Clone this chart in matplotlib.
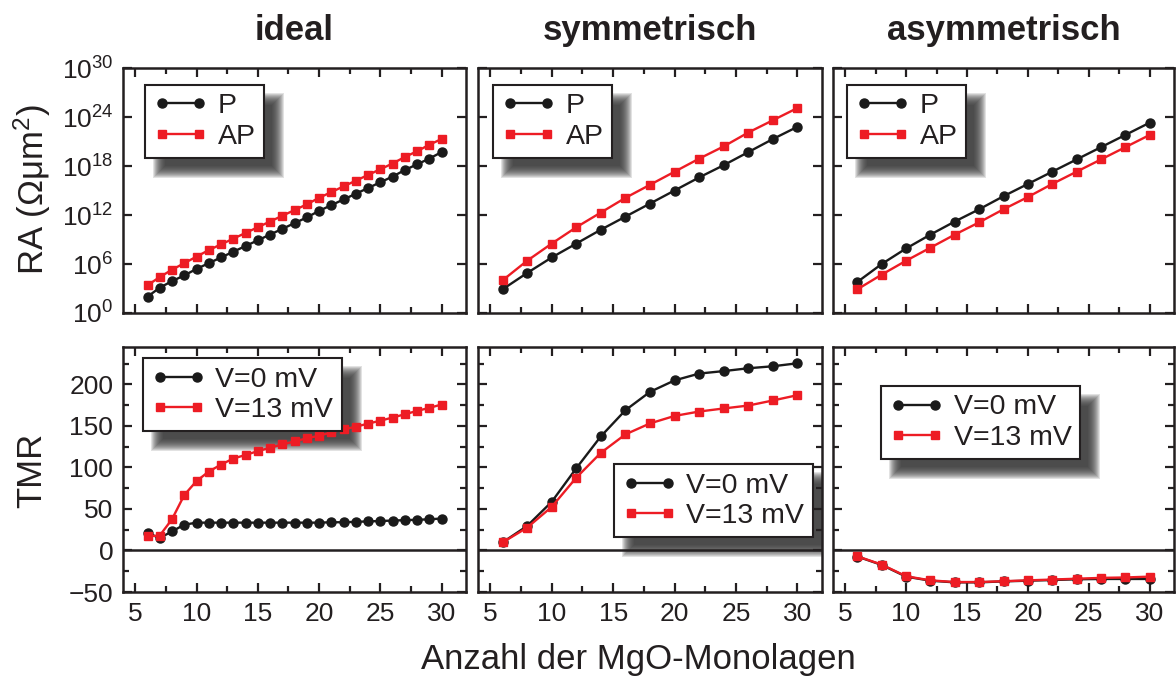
import numpy as np
import matplotlib
matplotlib.use("Agg")
import matplotlib.pyplot as plt
from matplotlib.patches import Rectangle
from matplotlib.ticker import FixedLocator, MultipleLocator, FuncFormatter

plt.rcParams['font.family'] = ['Liberation Sans', 'DejaVu Sans']
plt.rcParams['mathtext.fontset'] = 'custom'
plt.rcParams['mathtext.rm'] = 'Liberation Sans'
plt.rcParams['mathtext.it'] = 'Liberation Sans:italic'
plt.rcParams['mathtext.bf'] = 'Liberation Sans:bold'

INK = '#231f20'
RED = '#ed1c24'

# Schichtdicken
n_ideal = list(range(6, 31))
n_sym = list(range(6, 31, 2))
n_asym = list(range(6, 31, 2))

# log10(RA) fuer parallele (P) und antiparallele (AP) Konfiguration
ra_p_ideal = [2.0, 3.1, 3.9, 4.6, 5.4, 6.1, 6.8, 7.5, 8.2, 8.9, 9.6, 10.3, 11.0,
              11.7, 12.5, 13.2, 13.9, 14.6, 15.3, 16.0, 16.7, 17.5, 18.2, 18.9, 19.7]
ra_ap_ideal = [3.4, 4.4, 5.3, 6.1, 6.9, 7.7, 8.4, 9.1, 9.8, 10.5, 11.2, 11.9, 12.6,
               13.3, 14.1, 14.8, 15.5, 16.2, 16.9, 17.6, 18.3, 19.1, 19.8, 20.6, 21.3]
ra_p_sym = [2.9, 4.9, 6.8, 8.5, 10.2, 11.8, 13.4, 15.0, 16.6, 18.1, 19.7, 21.3, 22.8]
ra_ap_sym = [4.0, 6.4, 8.5, 10.5, 12.3, 14.1, 15.7, 17.3, 18.9, 20.4, 22.1, 23.6, 25.1]
ra_p_asym = [3.8, 6.0, 7.9, 9.6, 11.2, 12.7, 14.3, 15.8, 17.3, 18.8, 20.3, 21.8, 23.3]
ra_ap_asym = [2.9, 4.7, 6.4, 8.0, 9.6, 11.1, 12.7, 14.2, 15.8, 17.3, 18.8, 20.3, 21.8]

# TMR bei V=0 mV und V=13 mV
tmr0_ideal = [21, 15, 23, 31, 33.5, 33.5, 33.5, 33.5, 33.5, 33.5, 33.5, 33.5, 33.5,
              33.5, 33.5, 34, 34, 34.5, 35, 35.5, 36, 36.5, 37, 37.5, 38.5]
tmr13_ideal = [17, 18, 37.6, 66.7, 83.6, 95, 103.4, 110.7, 115, 119.6, 123.6, 127.7,
               131.3, 135, 138.2, 142.2, 145.8, 149, 152.7, 156.3, 160, 164, 168,
               171.7, 175.7]
tmr0_sym = [9.7, 29.5, 58.6, 99, 137.4, 168.9, 191, 204.8, 213, 216, 219.4, 221.8, 225.4]
tmr13_sym = [9.7, 27.5, 52.5, 87.7, 117.6, 139.8, 153, 162, 167.3, 171, 174.5, 180.6, 187]
tmr0_asym = [-7.3, -17.4, -31.5, -36.4, -38.4, -38.4, -37.2, -36.4, -35.6, -34.7,
             -34.3, -34.3, -34.3]
tmr13_asym = [-7, -17, -31, -36, -38, -38, -37, -36, -35, -34, -33, -32.5, -31.5]

titles = ['ideal', 'symmetrisch', 'asymmetrisch']
ra_data = [(n_ideal, ra_p_ideal, ra_ap_ideal),
           (n_sym, ra_p_sym, ra_ap_sym),
           (n_asym, ra_p_asym, ra_ap_asym)]
tmr_data = [(n_ideal, tmr0_ideal, tmr13_ideal),
            (n_sym, tmr0_sym, tmr13_sym),
            (n_asym, tmr0_asym, tmr13_asym)]

W, H = 1176, 679
fig = plt.figure(figsize=(W / 100, H / 100), dpi=100)

cols = [(123, 466), (478, 822), (833, 1174)]
rows = [(68, 313), (347, 592)]


def make_axes(x0, x1, y0, y1):
    return fig.add_axes([x0 / W, 1 - y1 / H, (x1 - x0) / W, (y1 - y0) / H])


def style(ax):
    for s in ax.spines.values():
        s.set_linewidth(1.8)
        s.set_color(INK)
    ax.tick_params(which='both', direction='in', top=True, right=True,
                   width=1.6, color=INK, labelsize=19, labelcolor=INK)
    ax.tick_params(which='major', length=6.5, pad=7)
    ax.tick_params(which='minor', length=4)
    ax.set_xlim(4, 32)
    ax.xaxis.set_major_locator(MultipleLocator(5))
    ax.xaxis.set_minor_locator(MultipleLocator(2.5))


def add_shadow(ax, leg, renderer, off=14, blur=6):
    # weicher Schlagschatten hinter der Legende
    bb = leg.get_frame().get_window_extent(renderer)
    inv = ax.transAxes.inverted()
    for s in np.linspace(blur, -blur, 13):
        x0, y0 = inv.transform((bb.x0 + off - s, bb.y0 - off - s))
        x1, y1 = inv.transform((bb.x1 + off + s, bb.y1 - off + s))
        ax.add_patch(Rectangle((x0, y0), x1 - x0, y1 - y0, transform=ax.transAxes,
                               facecolor='#333333', edgecolor='none', alpha=0.14,
                               clip_on=True, zorder=1.5))


def legend(ax, handles, labels, anchor):
    leg = ax.legend(handles, labels, loc='upper left', bbox_to_anchor=anchor,
                    borderaxespad=0, fontsize=20.5, frameon=True, fancybox=False,
                    framealpha=1, edgecolor=INK, numpoints=2, handlelength=1.9,
                    handletextpad=0.35, labelspacing=0.15, borderpad=0.3,
                    labelcolor=INK)
    leg.get_frame().set_linewidth(1.5)
    return leg


ra_anchor = [(0.064, 0.931), (0.044, 0.931), (0.041, 0.931)]
tmr_anchor = [(0.058, 0.955), (0.395, 0.522), (0.141, 0.841)]

legends = []
for i in range(3):
    # RA oben (logarithmisch)
    ax = make_axes(cols[i][0], cols[i][1], rows[0][0], rows[0][1])
    style(ax)
    n, p, ap = ra_data[i]
    lp, = ax.semilogy(n, 10 ** np.array(p), '-o', color='#1a1a1a', lw=1.7, ms=6.5, zorder=3)
    lap, = ax.semilogy(n, 10 ** np.array(ap), '-s', color=RED, lw=1.7, ms=5.5, zorder=3)
    ax.set_ylim(1, 1e30)
    ax.yaxis.set_major_locator(FixedLocator([10.0 ** k for k in range(0, 31, 6)]))
    ax.yaxis.set_minor_locator(FixedLocator([]))
    ax.yaxis.set_major_formatter(FuncFormatter(
        lambda v, pos: r'$\mathregular{10^{%d}}$' % round(np.log10(v))))
    ax.tick_params(axis='x', labelbottom=False)
    if i > 0:
        ax.tick_params(axis='y', labelleft=False)
    ax.set_title(titles[i], fontsize=25, fontweight='bold', color=INK, pad=20)
    legends.append((ax, legend(ax, [lp, lap], ['P', 'AP'], ra_anchor[i])))

    # TMR unten
    ax = make_axes(cols[i][0], cols[i][1], rows[1][0], rows[1][1])
    style(ax)
    n, t0, t13 = tmr_data[i]
    ax.axhline(0, color=INK, lw=1.8, zorder=2)
    l0, = ax.plot(n, t0, '-o', color='#1a1a1a', lw=1.7, ms=6.5, zorder=3)
    l13, = ax.plot(n, t13, '-s', color=RED, lw=1.7, ms=5.5, zorder=3)
    ax.set_ylim(-50, 245)
    ax.yaxis.set_major_locator(MultipleLocator(50))
    ax.yaxis.set_minor_locator(MultipleLocator(25))
    if i > 0:
        ax.tick_params(axis='y', labelleft=False)
    legends.append((ax, legend(ax, [l0, l13], ['V=0 mV', 'V=13 mV'], tmr_anchor[i])))

fig.canvas.draw()
renderer = fig.canvas.get_renderer()
for ax, leg in legends:
    add_shadow(ax, leg, renderer)

fig.text(32 / W, 1 - 190 / H, 'RA (Ωμm$^{2}$)', rotation=90, ha='center',
         va='center', fontsize=25, color=INK)
fig.text(32 / W, 1 - 470 / H, 'TMR', rotation=90, ha='center', va='center',
         fontsize=25, color=INK)
fig.text(638 / W, 1 - 660 / H, 'Anzahl der MgO-Monolagen', ha='center',
         va='center', fontsize=25, color=INK)

fig.savefig('out.png', dpi=100)
